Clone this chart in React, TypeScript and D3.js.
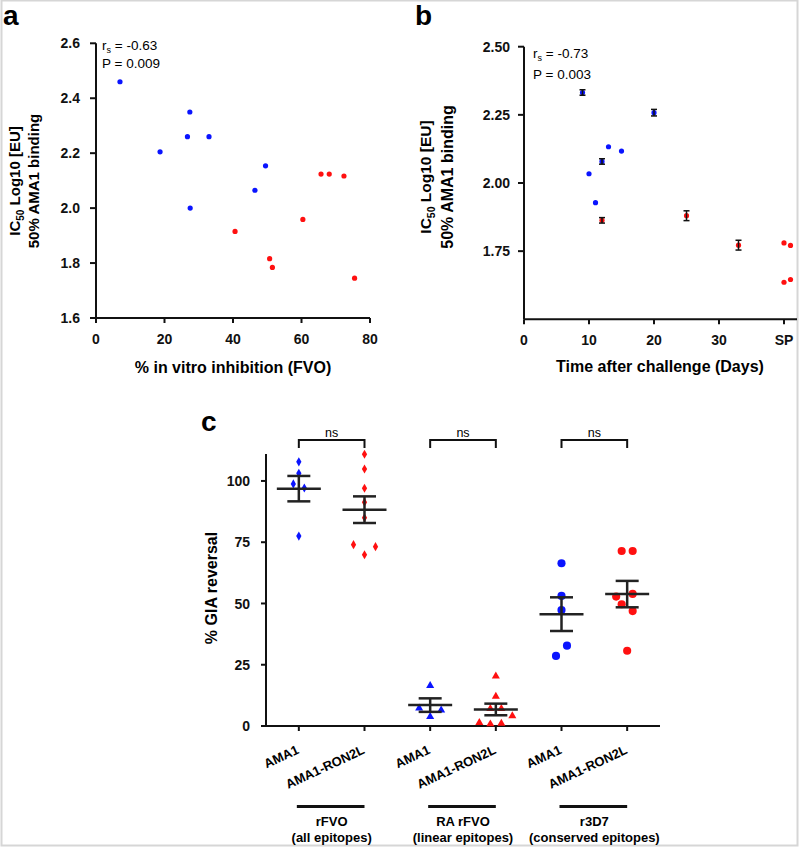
import React from "react";
import * as d3 from "d3";

// ---------- Panel a data ----------
const aBlueX = [7.0, 27.4, 26.7, 33.0, 18.7, 49.5, 46.4, 27.5];
const aBlueY = [2.46, 2.35, 2.26, 2.26, 2.205, 2.154, 2.065, 2.0];
const aRedX = [65.7, 68.1, 72.4, 60.4, 40.6, 50.7, 51.5, 75.5];
const aRedY = [2.124, 2.124, 2.117, 1.959, 1.915, 1.816, 1.784, 1.745];
const aYTicks = [1.6, 1.8, 2.0, 2.2, 2.4, 2.6];
const aXTicks = [0, 20, 40, 60, 80];

// ---------- Panel b data ----------
const bBlueErrX = [9, 20, 12];
const bBlueErrY = [2.332, 2.258, 2.079];
const bBlueErrE = [0.01, 0.012, 0.01];
const bBlueX = [10, 11, 13, 15];
const bBlueY = [2.034, 1.928, 2.133, 2.117];
const bRedErrX = [12, 25, 33];
const bRedErrY = [1.863, 1.88, 1.772];
const bRedErrE = [0.01, 0.018, 0.018];
const bRedX = [40, 41, 40, 41];
const bRedY = [1.78, 1.771, 1.636, 1.646];
const bYTicks = [1.75, 2.0, 2.25, 2.5];
const bXTicks = [0, 10, 20, 30, 40];
const bXLabels = ["0", "10", "20", "30", "SP"];

// ---------- Panel c data ----------
const cCategories = ["AMA1", "AMA1-RON2L", "AMA1", "AMA1-RON2L", "AMA1", "AMA1-RON2L"];
const cGroupsL1 = ["rFVO", "RA rFVO", "r3D7"];
const cGroupsL2 = ["(all epitopes)", "(linear epitopes)", "(conserved epitopes)"];
const cSeries = [
  [107.8, 103.1, 98.8, 97.1, 77.5],
  [110.9, 104.9, 97.0, 91.3, 85.0, 74.0, 73.2, 69.9],
  [16.5, 7.3, 6.5, 3.8],
  [20.3, 12.1, 7.1, 7.1, 4.1, 1.4, 0.8, 1.1],
  [66.4, 53.1, 47.3, 32.8, 28.6],
  [71.4, 71.4, 53.9, 52.8, 49.7, 46.9, 30.7],
];
const cJitter = [
  [0, 0, -1, 1, 0],
  [0, 0, 0, 0, 0, -2, 2, 0],
  [0, -2, 2, 0],
  [0, 0, -1, 1, 3, -3, -1, 1],
  [0, 0, 0, 1, -1],
  [-1, 1, 1, -2, -1, 1, 0],
];
const cShapes = ["diamond", "diamond", "triangle", "triangle", "circle", "circle"];
const cColors = ["#0a14ff", "#ff1010", "#0a14ff", "#ff1010", "#0a14ff", "#ff1010"];
const cYTicks = [0, 25, 50, 75, 100];

const BLUE = "#0a14ff";
const RED = "#ff1010";
const FONT = "'Liberation Sans', Arial, Helvetica, sans-serif";

export default function App() {
  const xA = d3.scaleLinear().domain([0, 80]).range([96, 370]);
  const yA = d3.scaleLinear().domain([1.6, 2.6]).range([318, 43.3]);
  const xB = d3.scaleLinear().domain([0, 42]).range([524, 797]);
  const yB = d3.scaleLinear().domain([1.5, 2.5]).range([319.3, 46.7]);
  const idx = cCategories.map((_, i) => String(i));
  const xC = d3.scalePoint().domain(idx).range([266, 660]).padding(0.5);
  const yC = d3.scaleLinear().domain([0, 111]).range([726, 454]);

  const diamond = d3.symbol().type(d3.symbolDiamond).size(24)();
  const triangle = d3.symbol().type(d3.symbolTriangle).size(28)();
  const circle = d3.symbol().type(d3.symbolCircle).size(52)();
  const shapePath = (s) => (s === "diamond" ? diamond : s === "triangle" ? triangle : circle);

  const fmt1 = d3.format(".1f");
  const fmt2 = d3.format(".2f");
  const tickStyle = { fontFamily: FONT, fontWeight: 700, fontSize: 14, fill: "#111" };

  return (
    <svg
      width={800}
      height={847}
      style={{ position: "absolute", left: 0, top: 0, background: "#fff" }}
      fontFamily={FONT}
    >
      <rect x={1.5} y={0.5} width={796} height={845} fill="#fff" stroke="#d6d6d6" strokeWidth={2} />

      {/* ===== Panel a ===== */}
      <text x={3} y={25} fontSize={28} fontWeight={700}>a</text>
      <g stroke="#111" strokeWidth={2} fill="none">
        <line x1={xA(0)} x2={xA(0)} y1={yA(2.6)} y2={yA(1.6)} />
        <line x1={xA(0)} x2={xA(80)} y1={yA(1.6)} y2={yA(1.6)} />
        {aYTicks.map((t) => (
          <line key={"ayt" + t} x1={xA(0) - 6} x2={xA(0)} y1={yA(t)} y2={yA(t)} />
        ))}
        {aXTicks.map((t) => (
          <line key={"axt" + t} x1={xA(t)} x2={xA(t)} y1={yA(1.6)} y2={yA(1.6) + 5} />
        ))}
      </g>
      {aYTicks.map((t) => (
        <text key={"ayl" + t} x={80} y={yA(t)} dy="0.36em" textAnchor="end" style={tickStyle}>
          {fmt1(t)}
        </text>
      ))}
      {aXTicks.map((t) => (
        <text key={"axl" + t} x={xA(t)} y={344} textAnchor="middle" style={tickStyle}>
          {t}
        </text>
      ))}
      <text x={233} y={373} textAnchor="middle" fontSize={16} fontWeight={700}>
        % in vitro inhibition (FVO)
      </text>
      <text transform="translate(20,181) rotate(-90)" textAnchor="middle" fontSize={15} fontWeight={700}>
        IC<tspan fontSize={10} dy={4}>50</tspan>
        <tspan dy={-4}> Log10 [EU]</tspan>
      </text>
      <text transform="translate(39,181) rotate(-90)" textAnchor="middle" fontSize={15} fontWeight={700}>
        50% AMA1 binding
      </text>
      <text x={102} y={50} fontSize={13.5}>
        r<tspan fontSize={9} dy={3}>s</tspan>
        <tspan dy={-3}> = -0.63</tspan>
      </text>
      <text x={102} y={68} fontSize={13.5}>P = 0.009</text>
      {aBlueX.map((x, i) => (
        <circle key={"ab" + i} cx={xA(x)} cy={yA(aBlueY[i])} r={2.6} fill={BLUE} />
      ))}
      {aRedX.map((x, i) => (
        <circle key={"ar" + i} cx={xA(x)} cy={yA(aRedY[i])} r={2.6} fill={RED} />
      ))}

      {/* ===== Panel b ===== */}
      <text x={415} y={25} fontSize={28} fontWeight={700}>b</text>
      <g stroke="#111" strokeWidth={2} fill="none">
        <line x1={xB(0)} x2={xB(0)} y1={yB(2.5)} y2={yB(1.5)} />
        <line x1={xB(0)} x2={xB(42)} y1={yB(1.5)} y2={yB(1.5)} />
        {bYTicks.map((t) => (
          <line key={"byt" + t} x1={xB(0) - 6} x2={xB(0)} y1={yB(t)} y2={yB(t)} />
        ))}
        {bXTicks.map((t) => (
          <line key={"bxt" + t} x1={xB(t)} x2={xB(t)} y1={yB(1.5)} y2={yB(1.5) + 5} />
        ))}
      </g>
      {bYTicks.map((t) => (
        <text key={"byl" + t} x={510} y={yB(t)} dy="0.36em" textAnchor="end" style={tickStyle}>
          {fmt2(t)}
        </text>
      ))}
      {bXTicks.map((t, i) => (
        <text key={"bxl" + t} x={xB(t)} y={345} textAnchor="middle" style={tickStyle}>
          {bXLabels[i]}
        </text>
      ))}
      <text x={660} y={372} textAnchor="middle" fontSize={16} fontWeight={700}>
        Time after challenge (Days)
      </text>
      <text transform="translate(431,177) rotate(-90)" textAnchor="middle" fontSize={15.5} fontWeight={700}>
        IC<tspan fontSize={10.5} dy={4}>50</tspan>
        <tspan dy={-4}> Log10 [EU]</tspan>
      </text>
      <text transform="translate(453,177) rotate(-90)" textAnchor="middle" fontSize={16} fontWeight={700}>
        50% AMA1 binding
      </text>
      <text x={533} y={58} fontSize={13.5}>
        r<tspan fontSize={9} dy={3}>s</tspan>
        <tspan dy={-3}> = -0.73</tspan>
      </text>
      <text x={533} y={79} fontSize={13.5}>P = 0.003</text>
      {bBlueX.map((x, i) => (
        <circle key={"bb" + i} cx={xB(x)} cy={yB(bBlueY[i])} r={2.6} fill={BLUE} />
      ))}
      {bRedX.map((x, i) => (
        <circle key={"br" + i} cx={xB(x)} cy={yB(bRedY[i])} r={2.6} fill={RED} />
      ))}
      {[
        { xs: bBlueErrX, ys: bBlueErrY, es: bBlueErrE, c: BLUE },
        { xs: bRedErrX, ys: bRedErrY, es: bRedErrE, c: RED },
      ].map((s, si) =>
        s.xs.map((x, i) => {
          const cx = xB(x);
          const y0 = yB(s.ys[i] - s.es[i]);
          const y1 = yB(s.ys[i] + s.es[i]);
          return (
            <g key={"be" + si + i}>
              <circle cx={cx} cy={yB(s.ys[i])} r={2.6} fill={s.c} />
              <g stroke="#111" strokeWidth={1.5}>
                <line x1={cx} x2={cx} y1={y0} y2={y1} />
                <line x1={cx - 3} x2={cx + 3} y1={y0} y2={y0} />
                <line x1={cx - 3} x2={cx + 3} y1={y1} y2={y1} />
              </g>
            </g>
          );
        })
      )}

      {/* ===== Panel c ===== */}
      <text x={201} y={431} fontSize={28} fontWeight={700}>c</text>
      <g stroke="#111" strokeWidth={2} fill="none">
        <line x1={266} x2={266} y1={yC(111)} y2={yC(0)} />
        <line x1={261} x2={660} y1={yC(0)} y2={yC(0)} />
        {cYTicks.map((t) => (
          <line key={"cyt" + t} x1={261} x2={266} y1={yC(t)} y2={yC(t)} />
        ))}
        {idx.map((k) => (
          <line key={"cxt" + k} x1={xC(k)} x2={xC(k)} y1={yC(0)} y2={yC(0) + 5} />
        ))}
      </g>
      {cYTicks.map((t) => (
        <text key={"cyl" + t} x={250} y={yC(t)} dy="0.36em" textAnchor="end" style={tickStyle}>
          {t}
        </text>
      ))}
      <text transform="translate(217,588) rotate(-90)" textAnchor="middle" fontSize={16} fontWeight={700}>
        % GIA reversal
      </text>
      {idx.map((k, i) => (
        <text
          key={"cxl" + k}
          transform={`translate(${xC(k) + 1},${753}) rotate(-25)`}
          textAnchor="end"
          fontSize={13}
          fontWeight={700}
        >
          {cCategories[i]}
        </text>
      ))}
      {cGroupsL1.map((g, gi) => {
        const x1 = xC(String(gi * 2));
        const x2 = xC(String(gi * 2 + 1));
        const cx = (x1 + x2) / 2;
        return (
          <g key={"grp" + gi}>
            <line x1={x1 - 2} x2={x2} y1={806.5} y2={806.5} stroke="#111" strokeWidth={3} />
            <text x={cx} y={826} textAnchor="middle" fontSize={13} fontWeight={700}>{g}</text>
            <text x={cx} y={842} textAnchor="middle" fontSize={13} fontWeight={700}>{cGroupsL2[gi]}</text>
            <path
              d={`M${x1},${448}V${440}H${x2}V${448}`}
              fill="none"
              stroke="#111"
              strokeWidth={2}
            />
            <text x={cx} y={437} textAnchor="middle" fontSize={12.5}>ns</text>
          </g>
        );
      })}
      {cSeries.map((vals, si) => {
        const cx = xC(String(si));
        const mean = d3.mean(vals);
        const sem = d3.deviation(vals) / Math.sqrt(vals.length);
        return (
          <g key={"cs" + si}>
            {vals.map((v, i) => (
              <path
                key={i}
                d={shapePath(cShapes[si])}
                transform={`translate(${cx + cJitter[si][i] * 5.5},${yC(v)})`}
                fill={cColors[si]}
              />
            ))}
            <g stroke="#222" strokeWidth={2.5}>
              <line x1={cx - 22} x2={cx + 22} y1={yC(mean)} y2={yC(mean)} />
              <line x1={cx} x2={cx} y1={yC(mean - sem)} y2={yC(mean + sem)} />
              <line x1={cx - 11.5} x2={cx + 11.5} y1={yC(mean - sem)} y2={yC(mean - sem)} />
              <line x1={cx - 11.5} x2={cx + 11.5} y1={yC(mean + sem)} y2={yC(mean + sem)} />
            </g>
          </g>
        );
      })}
    </svg>
  );
}
